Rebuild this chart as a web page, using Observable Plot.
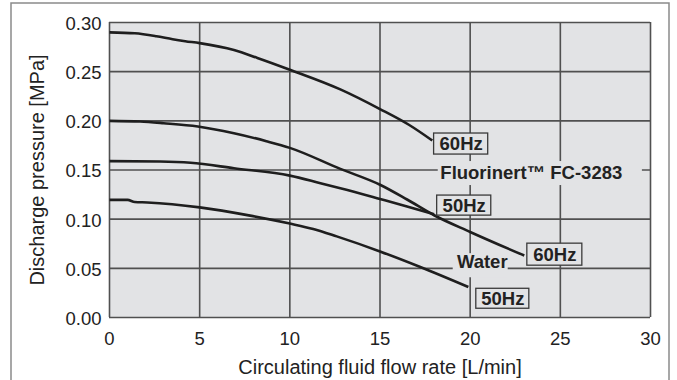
<!DOCTYPE html>
<html>
<head>
<meta charset="utf-8">
<script src="https://cdn.jsdelivr.net/npm/d3@7"></script>
<script src="https://cdn.jsdelivr.net/npm/@observablehq/plot@0.6"></script>
<style>
  html, body { margin: 0; padding: 0; background: #ffffff; }
  #chart { width: 677px; height: 380px; overflow: hidden; }
</style>
</head>
<body>
<div id="chart"></div>
<script>
// ---- data ----
const xTicks = [0, 5, 10, 15, 20, 25, 30];
const yTicks = [0, 0.05, 0.10, 0.15, 0.20, 0.25, 0.30];

// Fluorinert FC-3283, 60Hz
const flowFl60 = [0, 1.4, 2.6, 3.5, 4.2, 5, 6.9, 8.2, 10, 12.8, 15, 16.6, 17.9];
const presFl60 = [0.290, 0.289, 0.286, 0.283, 0.281, 0.279, 0.272, 0.264, 0.252, 0.232, 0.212, 0.196, 0.180];
// Water, 60Hz
const flowW60 = [0, 1.7, 3, 4.9, 6.9, 8.7, 10, 12.8, 15, 16.5, 18, 20, 23];
const presW60 = [0.200, 0.1993, 0.1976, 0.1943, 0.1874, 0.1793, 0.1725, 0.1511, 0.135, 0.120, 0.104, 0.087, 0.063];
// Fluorinert FC-3283, 50Hz
const flowFl50 = [0, 2.8, 4.5, 6.9, 10, 11.7, 12.8, 15, 16.5, 18];
const presFl50 = [0.159, 0.1586, 0.1573, 0.1518, 0.1443, 0.1366, 0.1315, 0.1206, 0.113, 0.105];
// Water, 50Hz
const flowW50 = [0, 1.0, 1.4, 2.1, 5, 7.8, 10, 11.3, 12.6, 15, 17.2, 19.9];
const presW50 = [0.1196, 0.1196, 0.1175, 0.117, 0.112, 0.1036, 0.0955, 0.090, 0.0825, 0.0672, 0.0516, 0.031];

const seriesNames = ["Fl60", "W60", "Fl50", "W50"];
const seriesFlows = [flowFl60, flowW60, flowFl50, flowW50];
const seriesPres = [presFl60, presW60, presFl50, presW50];

// label boxes (Hz tags), in data units
const boxText = ["60Hz", "50Hz", "60Hz", "50Hz"];
const boxX1 = [18.0, 18.17, 23.17, 20.34];
const boxX2 = [21.0, 21.17, 26.22, 23.28];
const boxY1 = [0.1657, 0.1036, 0.0527, 0.0089];
const boxY2 = [0.1871, 0.1240, 0.0751, 0.0292];

// fluid names, in data units
const fluidText = ["Fluorinert™ FC-3283", "Water"];
const fluidX = [23.39, 20.67];
const fluidY = [0.1469, 0.0567];
const maskX1 = [18.23, 19.06];
const maskX2 = [29.55, 22.11];
const maskY1 = [0.1342, 0.0404];
const maskY2 = [0.1586, 0.0649];

const xLabel = "Circulating fluid flow rate [L/min]";
const yLabel = "Discharge pressure [MPa]";

// ---- tables built from the arrays ----
const curves = seriesNames.flatMap((s, i) =>
  seriesFlows[i].map((f, j) => ({series: s, flow: f, pressure: seriesPres[i][j]})));
const boxes = boxText.map((t, i) => ({text: t, x1: boxX1[i], x2: boxX2[i], y1: boxY1[i], y2: boxY2[i],
  cx: (boxX1[i] + boxX2[i]) / 2, cy: (boxY1[i] + boxY2[i]) / 2}));
const fluids = fluidText.map((t, i) => ({text: t, x: fluidX[i], y: fluidY[i],
  x1: maskX1[i], x2: maskX2[i], y1: maskY1[i], y2: maskY2[i]}));

const BG = "#e2e3e5";
const GRID = "#505050";
const INK = "#1e1e1e";
const FONT = "'Liberation Sans', Arial, Helvetica, sans-serif";

const chart = Plot.plot({
  width: 677,
  height: 380,
  marginLeft: 109,
  marginRight: 27,
  marginTop: 22,
  marginBottom: 63,
  style: {fontFamily: FONT, fontSize: "18.5px", color: "#222", background: "#ffffff"},
  x: {domain: [0, 30]},
  y: {domain: [0, 0.30]},
  marks: [
    Plot.frame({fill: BG, stroke: null}),
    Plot.gridX(xTicks, {stroke: GRID, strokeOpacity: 1, strokeWidth: 1.6}),
    Plot.gridY(yTicks, {stroke: GRID, strokeOpacity: 1, strokeWidth: 1.6}),
    Plot.rect(fluids, {x1: "x1", x2: "x2", y1: "y1", y2: "y2", fill: BG}),
    Plot.line(curves, {x: "flow", y: "pressure", z: "series", stroke: INK, strokeWidth: 2.6,
      curve: "monotone-x", strokeLinejoin: "round", strokeLinecap: "butt"}),
    Plot.rect(boxes, {x1: "x1", x2: "x2", y1: "y1", y2: "y2", fill: BG, stroke: "#3a3a3a", strokeWidth: 1.3}),
    Plot.text(boxes, {x: "cx", y: "cy", text: "text", fontWeight: "bold", fontSize: 18.5, fill: "#222",
      textAnchor: "middle", lineAnchor: "middle"}),
    Plot.text(fluids, {x: "x", y: "y", text: "text", fontWeight: "bold", fontSize: 18.5, fill: "#222",
      textAnchor: "middle", lineAnchor: "middle"}),
    Plot.axisX(xTicks, {tickSize: 0, tickPadding: 14, label: null, fontSize: 18.5, fill: "#222"}),
    Plot.axisY(yTicks, {tickSize: 0, tickPadding: 8, label: null, fontSize: 18.5, fill: "#222",
      tickFormat: d3.format(".2f"), dy: 1.5}),
    Plot.text([xLabel], {frameAnchor: "bottom", dy: 50, fontSize: 20, fill: "#222",
      textAnchor: "middle", lineAnchor: "middle"}),
    Plot.text([yLabel], {frameAnchor: "left", dx: -72, rotate: -90, fontSize: 20, fill: "#222",
      textAnchor: "middle", lineAnchor: "middle"})
  ]
});

// outer frame around the whole figure
d3.select(chart).append("rect")
  .attr("x", 11).attr("y", 3).attr("width", 658).attr("height", 420)
  .attr("fill", "none").attr("stroke", "#8a8a8a").attr("stroke-width", 1.5);

document.getElementById("chart").appendChild(chart);
</script>
</body>
</html>
